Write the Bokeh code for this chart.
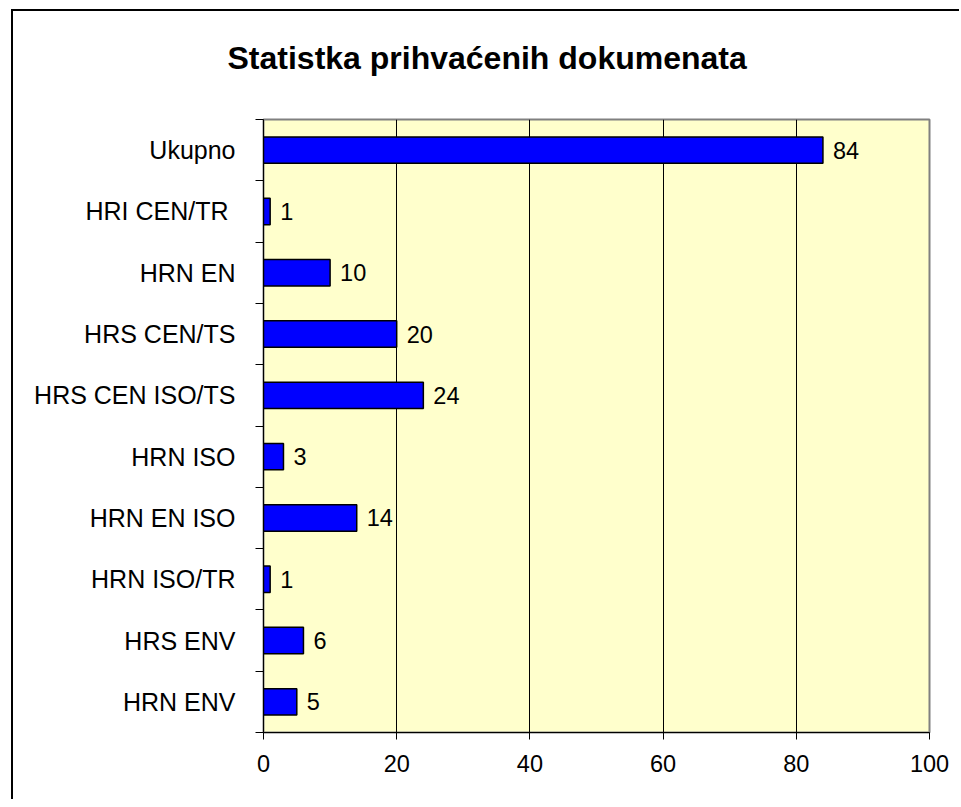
from bokeh.plotting import figure
from bokeh.layouts import column
from bokeh.models import ColumnDataSource, Range1d, FixedTicker, Title
from bokeh.core.properties import value
from bokeh.embed import file_html
from bokeh.resources import INLINE

title_text = "Statistka prihvaćenih dokumenata"
categories = ["Ukupno", "HRI CEN/TR ", "HRN EN", "HRS CEN/TS", "HRS CEN ISO/TS",
              "HRN ISO", "HRN EN ISO", "HRN ISO/TR", "HRS ENV", "HRN ENV"]
counts = [84, 1, 10, 20, 24, 3, 14, 1, 6, 5]
x_ticks = [0, 20, 40, 60, 80, 100]

n = len(categories)
# bottom category at position 0, top at n-1
ypos = [n - 1 - i for i in range(n)]
src = ColumnDataSource(dict(y=ypos, v=counts, lab=[str(c) for c in counts]))

FONT = "Liberation Sans"

p = figure(width=948, height=790, output_backend="svg", toolbar_location=None,
           x_range=Range1d(0, 100), y_range=Range1d(-0.5, n - 0.5),
           min_border_left=250, min_border_right=32, min_border_top=108,
           min_border_bottom=69)
p.background_fill_color = "#ffffcc"
p.border_fill_color = "white"
p.outline_line_color = "#808080"
p.outline_line_width = 2

p.hbar(y="y", right="v", left=0, height=0.43, source=src,
       fill_color="#0000ff", line_color="black", line_width=1.5)
p.text(x="v", y="y", text="lab", source=src, x_offset=10,
       text_baseline="middle", text_align="left", text_font=value(FONT),
       text_font_size="23.5px", text_color="black")

# x axis
p.xaxis.ticker = FixedTicker(ticks=x_ticks)
p.xaxis.major_tick_out = 7
p.xaxis.major_tick_in = 0
p.xaxis.minor_tick_line_color = None
p.xaxis.axis_line_color = "black"
p.xaxis.major_tick_line_color = "black"
p.xaxis.major_label_text_font = FONT
p.xaxis.major_label_text_font_size = "23.5px"
p.xaxis.major_label_text_color = "black"
p.xaxis.major_label_standoff = 15

# y axis: labels at centers, ticks at boundaries
p.yaxis.ticker = FixedTicker(ticks=list(range(n)),
                             minor_ticks=[k - 0.5 for k in range(n + 1)])
p.yaxis.major_label_overrides = {ypos[i]: categories[i] for i in range(n)}
p.yaxis.major_tick_line_color = None
p.yaxis.major_tick_out = 0
p.yaxis.major_tick_in = 0
p.yaxis.minor_tick_out = 8
p.yaxis.minor_tick_in = 0
p.yaxis.minor_tick_line_color = "black"
p.yaxis.axis_line_color = "black"
p.yaxis.major_label_text_font = FONT
p.yaxis.major_label_text_font_size = "25px"
p.yaxis.major_label_text_color = "black"
p.yaxis.major_label_standoff = 20

p.xgrid.grid_line_color = "black"
p.xgrid.grid_line_width = 1
p.ygrid.grid_line_color = None

# spacer between frame and title (closest to frame)
p.add_layout(Title(text=" ", text_font_size="10px", standoff=25), "above")
p.add_layout(Title(text=title_text, align="left", offset=-36,
                   vertical_align="middle", standoff=10,
                   text_font=FONT, text_font_size="32px",
                   text_font_style="bold", text_color="black"), "above")

layout = column(p, styles={"margin-left": "13px", "margin-top": "11px",
                           "box-shadow": "-2px -2px 0px 0px black"})

open("out.html", "w").write(file_html(layout, INLINE))
